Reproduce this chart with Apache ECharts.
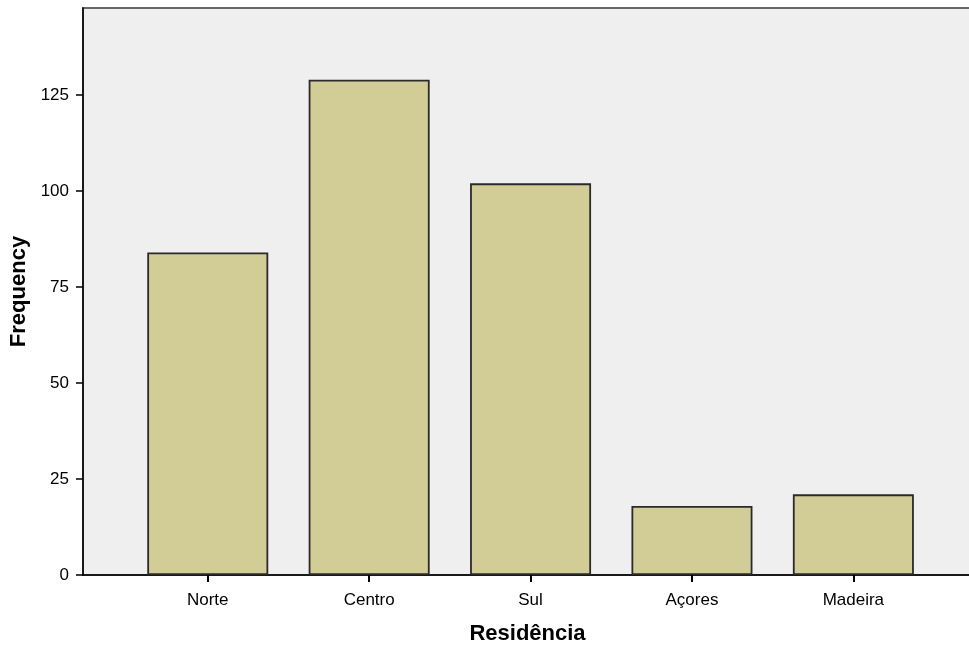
<!DOCTYPE html>
<html>
<head>
<meta charset="utf-8">
<script src="https://cdn.jsdelivr.net/npm/echarts@6/dist/echarts.min.js"></script>
<style>html,body{margin:0;padding:0;background:#fff;overflow:hidden}#c{width:969px;height:650px}</style>
</head>
<body>
<div id="c"></div>
<script>
var categories = ['Norte', 'Centro', 'Sul', 'Açores', 'Madeira'];
var frequencies = [84, 129, 102, 18, 21];
var yTicks = [0, 25, 50, 75, 100, 125];

var chart = echarts.init(document.getElementById('c'));
var font = 'Arial, "Liberation Sans", sans-serif';
var catIdx = categories.map(function (c, i) { return i; });
chart.setOption({
  animation: false,
  grid: { left: 83, right: -3, top: 8, bottom: 75, outerBoundsMode: 'none', containLabel: false, show: true, backgroundColor: '#efefef', borderColor: '#666', borderWidth: 2 },
  xAxis: {
    type: 'value', min: -0.773, max: 4.735,
    name: 'Residência', nameLocation: 'middle', nameGap: 48,
    nameTextStyle: { fontFamily: font, fontSize: 22, fontWeight: 'bold', color: '#000' },
    axisLine: { show: true, onZero: false, lineStyle: { color: '#000', width: 1.5 } },
    axisTick: { show: true, customValues: catIdx, length: 7, lineStyle: { color: '#000', width: 2 } },
    axisLabel: { customValues: catIdx, formatter: function (v) { return categories[Math.round(v)]; }, fontFamily: font, fontSize: 17, color: '#000', margin: 17 },
    splitLine: { show: false }
  },
  yAxis: {
    type: 'value', min: 0, max: 147.66,
    name: 'Frequency', nameLocation: 'middle', nameGap: 53, nameRotate: 90,
    nameTextStyle: { fontFamily: font, fontSize: 22, fontWeight: 'bold', color: '#000' },
    axisLine: { show: true, onZero: false, lineStyle: { color: '#000', width: 1.5 } },
    axisTick: { show: true, customValues: yTicks, length: 7, lineStyle: { color: '#000', width: 1.5 } },
    axisLabel: { customValues: yTicks, fontFamily: font, fontSize: 17, color: '#000', margin: 14 },
    splitLine: { show: false }
  },
  series: [{
    type: 'bar',
    barWidth: 121,
    data: categories.map(function (c, i) { return [i, frequencies[i]]; }),
    itemStyle: { color: '#d2cc96', borderColor: '#2a2a2a', borderWidth: 1.8 }
  }]
});
</script>
</body>
</html>
